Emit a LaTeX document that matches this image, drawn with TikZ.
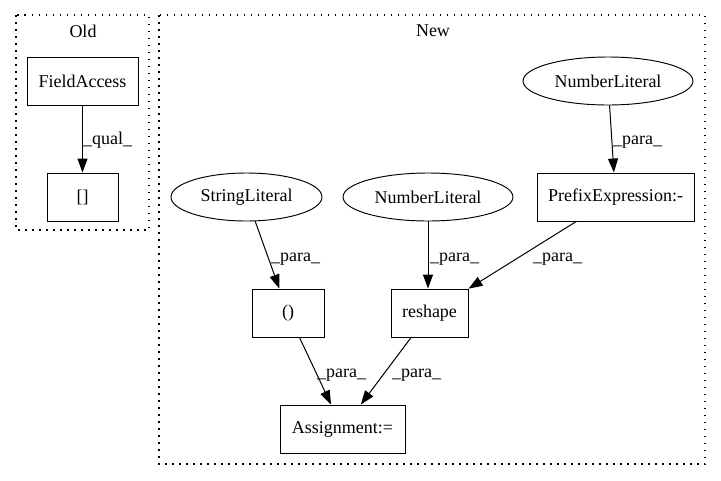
\documentclass[tikz,border=0pt]{standalone}
\usepackage{fontspec}
\setmainfont{Liberation Serif}
\usetikzlibrary{shapes.geometric,arrows.meta}
\begin{document}
\begin{tikzpicture}[x=1pt,y=-1pt,
  every node/.style={font=\fontsize{18}{21}\selectfont, inner sep=0pt},
  boxnode/.style={draw, line width=0.95pt, rectangle, minimum height=48pt},
  ellnode/.style={draw, line width=0.95pt, ellipse, minimum height=48pt},
  cluster/.style={draw, line width=1.3pt, dash pattern=on 1.5pt off 5.5pt},
  edge/.style={draw, line width=1pt, -{Triangle[length=14pt,width=10pt]}},
  elabel/.style={anchor=base west}
]
\useasboundingbox (0,0) rectangle (721,480);
% clusters
\draw[cluster] (16,15) rectangle (149,230);
\node (oldlbl) at (83,31) {Old};
\draw[cluster] (159,15) rectangle (705,464);
\node (newlbl) at (433,31) {New};
% Old nodes
\node[boxnode, minimum width=111pt] (fa) at (82.5,81) {FieldAccess};
\node[boxnode, minimum width=71pt] (br) at (82.5,197) {[]};
% New nodes
\node[ellnode, minimum width=170pt] (nl1) at (608,81) {NumberLiteral};
\node[boxnode, minimum width=157pt] (pre) at (615.5,197) {PrefixExpression:-};
\node[ellnode, minimum width=151pt] (sl) at (246.5,197) {StringLiteral};
\node[ellnode, minimum width=170pt] (nl2) at (428,197) {NumberLiteral};
\node[boxnode, minimum width=72pt] (par) at (288,313) {()};
\node[boxnode, minimum width=77pt] (rs) at (429.5,313) {reshape};
\node[boxnode, minimum width=125pt] (as) at (342.5,429) {Assignment:=};
% edges
\draw[edge] (fa) -- (br);
\node[elabel] (l1) at (83,144) {\_qual\_};
\draw[edge] (nl1) -- (pre);
\node[elabel] (l2) at (613,144) {\_para\_};
\draw[edge] (sl) -- (par);
\node[elabel] (l3) at (271,261) {\_para\_};
\draw[edge] (nl2.south) -- (rs.north -| nl2.south);
\node[elabel] (l4) at (430,261) {\_para\_};
\draw[edge] (pre) -- (rs);
\node[elabel] (l5) at (533,261) {\_para\_};
\draw[edge] (par) -- (as);
\node[elabel] (l6) at (317,377) {\_para\_};
\draw[edge] (rs) -- (as);
\node[elabel] (l7) at (392,377) {\_para\_};
\end{tikzpicture}
\end{document}
